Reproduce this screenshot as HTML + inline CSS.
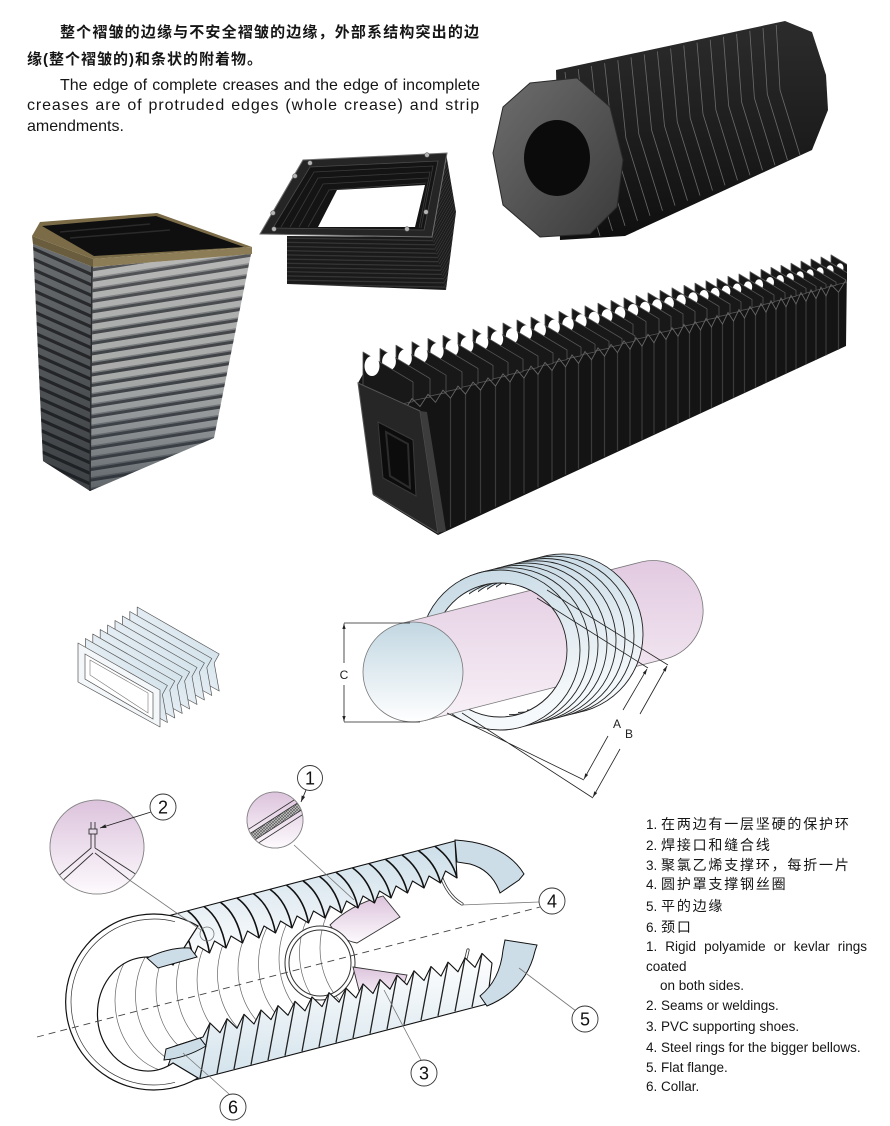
<!DOCTYPE html>
<html><head><meta charset="utf-8">
<style>
html,body{margin:0;padding:0;background:#fff;}
body{width:890px;height:1126px;position:relative;overflow:hidden;font-family:"Liberation Sans","Noto Sans CJK SC",sans-serif;color:#151515;}
.a{position:absolute;white-space:pre;}
.j{text-align:justify;text-align-last:justify;white-space:normal;}
.cn{font-size:15px;line-height:20px;font-weight:bold;letter-spacing:1px;}
.en{font-size:16px;line-height:20px;}
.li{font-size:13.5px;line-height:20px;left:646px;}
.lc{font-size:14px;letter-spacing:1.8px;}
</style></head><body>
<svg width="890" height="1126" viewBox="0 0 890 1126" style="position:absolute;left:0;top:0" font-family="Liberation Sans, sans-serif">
<defs>
<pattern id="strR" patternUnits="userSpaceOnUse" width="40" height="10.5" patternTransform="translate(0,265) skewY(-9)">
 <rect width="40" height="10.5" fill="#aeafad"/>
 <rect y="6" width="40" height="1.5" fill="#7a7c7d"/>
 <rect y="7.5" width="40" height="3" fill="#3e4043"/>
</pattern>
<pattern id="strL" patternUnits="userSpaceOnUse" width="40" height="10.5" patternTransform="translate(0,246) skewY(24)">
 <rect width="40" height="10.5" fill="#6a6e71"/>
 <rect y="7" width="40" height="3.5" fill="#2c2e31"/>
</pattern>
<pattern id="strB" patternUnits="userSpaceOnUse" width="40" height="4.2" patternTransform="translate(0,238) skewY(1)">
 <rect width="40" height="4.2" fill="#1a1a1a"/>
 <rect y="3" width="40" height="1" fill="#3c3c3c"/>
</pattern>
<pattern id="strS" patternUnits="userSpaceOnUse" width="40" height="4.5" patternTransform="translate(0,238) skewY(-60)">
 <rect width="40" height="4.5" fill="#1c1c1c"/>
 <rect y="3" width="40" height="1.1" fill="#3e3e3e"/>
</pattern>
<pattern id="hat" patternUnits="userSpaceOnUse" width="3" height="3">
 <rect width="3" height="3" fill="#c4c4c4"/>
 <path d="M0,0 L3,3 M3,0 L0,3" stroke="#555" stroke-width="0.6"/>
</pattern>
<linearGradient id="shadeR" x1="0" y1="0" x2="0" y2="1">
 <stop offset="0" stop-color="#ffffff" stop-opacity="0.12"/>
 <stop offset="0.5" stop-color="#506070" stop-opacity="0.05"/>
 <stop offset="1" stop-color="#1e2630" stop-opacity="0.55"/>
</linearGradient>
<linearGradient id="shadeL" x1="0" y1="0" x2="0" y2="1">
 <stop offset="0" stop-color="#000" stop-opacity="0"/>
 <stop offset="1" stop-color="#101418" stop-opacity="0.5"/>
</linearGradient>
<linearGradient id="endG" x1="0" y1="0" x2="1" y2="1">
 <stop offset="0" stop-color="#6e6e6e"/>
 <stop offset="1" stop-color="#3a3a3a"/>
</linearGradient>
<linearGradient id="cylG" x1="0" y1="0" x2="0" y2="1">
 <stop offset="0" stop-color="#2c2c2c"/>
 <stop offset="1" stop-color="#0f0f0f"/>
</linearGradient>
<linearGradient id="rg" x1="0" y1="0" x2="0.3" y2="1">
 <stop offset="0" stop-color="#c3d7e3"/>
 <stop offset="1" stop-color="#f6f9fb"/>
</linearGradient>
<linearGradient id="cp" x1="0" y1="0" x2="0" y2="1">
 <stop offset="0" stop-color="#e2cae1"/>
 <stop offset="1" stop-color="#f8f1f7"/>
</linearGradient>
<linearGradient id="fc" x1="0" y1="0" x2="0" y2="1">
 <stop offset="0" stop-color="#c2d7e2"/>
 <stop offset="1" stop-color="#ffffff"/>
</linearGradient>
<linearGradient id="pm" x1="0" y1="0" x2="0" y2="1">
 <stop offset="0" stop-color="#dcc3dc"/>
 <stop offset="1" stop-color="#fdfafd"/>
</linearGradient>
<linearGradient id="lb" x1="0" y1="0" x2="0" y2="1">
 <stop offset="0" stop-color="#cbdde8"/>
 <stop offset="1" stop-color="#ffffff"/>
</linearGradient>
<linearGradient id="lb2" x1="0" y1="0" x2="0" y2="1">
 <stop offset="0" stop-color="#ffffff"/>
 <stop offset="1" stop-color="#cfe0ea"/>
</linearGradient>
<linearGradient id="sb" x1="1" y1="0" x2="0" y2="1">
 <stop offset="0" stop-color="#c4d8e4"/>
 <stop offset="1" stop-color="#ffffff"/>
</linearGradient>
<clipPath id="rh"><rect x="0" y="-90" width="100" height="180"/></clipPath>
<clipPath id="rh2"><path d="M-40,-90 H100 V90 H0 V-40 H-40 Z"/></clipPath>
<clipPath id="m2"><circle cx="97" cy="847" r="47"/></clipPath>
<clipPath id="m1"><circle cx="275" cy="820" r="28"/></clipPath>
<clipPath id="finclip"><rect x="300" y="200" width="547" height="350"/></clipPath>
<path id="ring" d="M-80,0 a80,80 0 1,0 160,0 a80,80 0 1,0 -160,0 Z M-67,0 a67,67 0 1,0 134,0 a67,67 0 1,0 -134,0 Z" fill-rule="evenodd" fill="url(#rg)" stroke="#222" stroke-width="0.9"/>
<marker id="ar" viewBox="0 0 10 10" refX="10" refY="5" markerWidth="7" markerHeight="7" orient="auto"><path d="M0,2 L10,5 L0,8 Z" fill="#222"/></marker>
</defs>

<!-- ===== Photo 1: tall gray bellows ===== -->
<path d="M33,244 L93,267 L90,491 L43,461 Z" fill="url(#strL)"/>
<path d="M33,244 L93,267 L90,491 L43,461 Z" fill="url(#shadeL)"/>
<path d="M93,267 L251,254 L214,438 L90,491 Z" fill="url(#strR)"/>
<path d="M93,267 L251,254 L214,438 L90,491 Z" fill="url(#shadeR)"/>
<path d="M92,266 L90,491" stroke="#2a2c2e" stroke-width="1.5"/>
<path d="M32,236 L93,259 L93,267 L33,244 Z" fill="#6a5d3e"/>
<path d="M93,259 L252,247 L252,254 L93,267 Z" fill="#8c7d56"/>
<path d="M32,236 L40,222 L157,213 L252,247 L93,259 Z" fill="#7b6c47"/>
<path d="M42,226 L156,216 L244,247 L94,256 Z" fill="#0f0f0f"/>
<path d="M60,232 L150,224 M70,238 L170,230" stroke="#2a2a2a" stroke-width="1.5"/>

<!-- ===== Photo 2: black frame bellows ===== -->
<path d="M430,238 L446,153 L456,212 L446,290 Z" fill="url(#strS)"/>
<path d="M287,236 L432,237 L446,290 L287,284 Z" fill="url(#strB)"/>
<path d="M260,234 L303,160 L447,153 L432,237 Z" fill="#252525" stroke="#707070" stroke-width="1"/>
<path d="M273,228 L310,167 L438,161 L424,230 Z" fill="#141414" stroke="#4a4a4a" stroke-width="0.8"/>
<g fill="none" stroke="#3a3a3a" stroke-width="0.8">
<path d="M281,227 L314,172 L433,166 L421,228"/>
<path d="M290,227 L318,178 L430,172 L419,228"/>
<path d="M299,227 L323,184 L428,178"/>
<path d="M308,227 L329,190 L426,183"/>
</g>
<path d="M318,227 L337,190 L425,185 L415,227 Z" fill="#fff"/>
<g fill="#b5b5b5" stroke="#555" stroke-width="0.6">
<circle cx="274" cy="229" r="2.3"/><circle cx="273" cy="213" r="2.3"/><circle cx="295" cy="176" r="2.3"/>
<circle cx="310" cy="163" r="2.3"/><circle cx="427" cy="155" r="2.3"/><circle cx="426" cy="212" r="2.3"/><circle cx="407" cy="229" r="2.3"/>
</g>

<!-- ===== Photo 3: octagonal round bellows ===== -->
<path d="M556,70 L785,21 L812,32 L826,75 L828,110 L812,150 L625,236 L560,240 Z" fill="url(#cylG)"/>
<g fill="none" stroke="#7e7e7e" stroke-width="0.8" stroke-opacity="0.8">
<polyline points="565,72 574.5,154 600,236"/>
<polyline points="578.2,69.1 587.4,150 612.5,230.9"/>
<polyline points="591.4,66.1 600.2,146 625,225.9"/>
<polyline points="604.6,63.2 613,142 637.5,220.8"/>
<polyline points="617.8,60.2 625.9,138 650,215.8"/>
<polyline points="631,57.3 638.8,134 662.5,210.7"/>
<polyline points="644.2,54.4 651.6,130 675,205.6"/>
<polyline points="657.4,51.4 664.5,126 687.5,200.6"/>
<polyline points="670.6,48.5 677.3,122 700,195.5"/>
<polyline points="683.8,45.5 690.2,118 712.5,190.5"/>
<polyline points="697,42.6 703,114 725,185.4"/>
<polyline points="710.2,39.7 715.9,110 737.5,180.3"/>
<polyline points="723.4,36.7 728.7,106 750,175.3"/>
<polyline points="736.6,33.8 741.6,102 762.5,170.2"/>
<polyline points="749.8,30.8 754.4,98 775,165.2"/>
<polyline points="763,27.9 767.3,94 787.5,160.1"/>
<polyline points="776.2,25 780,90 800,155"/>
</g>
<path d="M503,107 L530,83 L577,78 L610,107 L623,160 L617,207 L590,234 L540,237 L503,205 L493,153 Z" fill="url(#endG)" stroke="#2a2a2a" stroke-width="1"/>
<ellipse cx="557" cy="158" rx="33" ry="38" fill="#0b0b0b"/>

<!-- ===== Photo 4: long bellows with fins ===== -->
<path d="M358,383 L363,374 L840,272 L847,264 L846,346 L438,535 L373,495 Z" fill="#141414"/>
<g clip-path="url(#finclip)">
<g fill="#181818" stroke="#555" stroke-width="0.8" stroke-linejoin="round">
<path d="M831,284.5 V254.9 L866,275.9 V277.2 Z"/><ellipse cx="840" cy="267.9" rx="3.5" ry="4.6" fill="#fff" stroke="none"/>
<path d="M821,287.2 V257 L856,278 V279.9 Z"/><ellipse cx="830" cy="270" rx="3.6" ry="4.7" fill="#fff" stroke="none"/>
<path d="M811,289.9 V259 L846,280 V282.6 Z"/><ellipse cx="820" cy="272" rx="3.6" ry="4.8" fill="#fff" stroke="none"/>
<path d="M801,292.6 V261.1 L836,282.1 V285.3 Z"/><ellipse cx="810" cy="274.1" rx="3.6" ry="4.9" fill="#fff" stroke="none"/>
<path d="M791,295.4 V263.2 L826,284.2 V288.1 Z"/><ellipse cx="800" cy="276.2" rx="3.7" ry="5" fill="#fff" stroke="none"/>
<path d="M781,298.1 V265.3 L816,286.3 V290.8 Z"/><ellipse cx="790" cy="278.3" rx="3.8" ry="5.2" fill="#fff" stroke="none"/>
<path d="M771,300.8 V267.3 L806,288.3 V293.5 Z"/><ellipse cx="780" cy="280.3" rx="3.9" ry="5.3" fill="#fff" stroke="none"/>
<path d="M761,303.5 V269.4 L796,290.4 V296.2 Z"/><ellipse cx="770" cy="282.4" rx="4" ry="5.4" fill="#fff" stroke="none"/>
<path d="M750,306.5 V271.7 L785,292.7 V299.2 Z"/><ellipse cx="759" cy="284.7" rx="4.1" ry="5.5" fill="#fff" stroke="none"/>
<path d="M739,309.6 V274 L774,295 V302.3 Z"/><ellipse cx="748" cy="287" rx="4.2" ry="5.6" fill="#fff" stroke="none"/>
<path d="M728,312.6 V276.3 L763,297.3 V305.3 Z"/><ellipse cx="737" cy="289.3" rx="4.3" ry="5.8" fill="#fff" stroke="none"/>
<path d="M717,315.5 V278.5 L752,299.5 V308.2 Z"/><ellipse cx="726" cy="291.5" rx="4.4" ry="5.9" fill="#fff" stroke="none"/>
<path d="M706,318.5 V280.8 L741,301.8 V311.2 Z"/><ellipse cx="715" cy="293.8" rx="4.5" ry="6" fill="#fff" stroke="none"/>
<path d="M695,321.5 V283.1 L730,304.1 V314.2 Z"/><ellipse cx="704" cy="296.1" rx="4.6" ry="6.1" fill="#fff" stroke="none"/>
<path d="M684,324.5 V285.4 L719,306.4 V317.2 Z"/><ellipse cx="693" cy="298.4" rx="4.7" ry="6.2" fill="#fff" stroke="none"/>
<path d="M672,327.8 V287.9 L707,308.9 V320.5 Z"/><ellipse cx="681" cy="300.9" rx="4.8" ry="6.4" fill="#fff" stroke="none"/>
<path d="M660,331.1 V290.4 L695,311.4 V323.8 Z"/><ellipse cx="669" cy="303.4" rx="4.9" ry="6.5" fill="#fff" stroke="none"/>
<path d="M648,334.4 V292.9 L683,313.9 V327.1 Z"/><ellipse cx="657" cy="305.9" rx="5" ry="6.6" fill="#fff" stroke="none"/>
<path d="M636,337.7 V295.4 L671,316.4 V330.4 Z"/><ellipse cx="645" cy="308.4" rx="5.1" ry="6.7" fill="#fff" stroke="none"/>
<path d="M624,340.8 V297.8 L659,318.8 V333.5 Z"/><ellipse cx="633" cy="310.8" rx="5.2" ry="6.8" fill="#fff" stroke="none"/>
<path d="M611,344.4 V300.5 L646,321.5 V337.1 Z"/><ellipse cx="620" cy="313.5" rx="5.3" ry="7" fill="#fff" stroke="none"/>
<path d="M598,347.9 V303.2 L633,324.2 V340.6 Z"/><ellipse cx="607" cy="316.2" rx="5.4" ry="7.1" fill="#fff" stroke="none"/>
<path d="M585,351.5 V305.9 L635,335.9 V341.1 Z"/><ellipse cx="594" cy="318.9" rx="5.5" ry="7.2" fill="#fff" stroke="none"/>
<path d="M572,355 V308.6 L622,338.6 V344.6 Z"/><ellipse cx="581" cy="321.6" rx="5.6" ry="7.3" fill="#fff" stroke="none"/>
<path d="M559,358.6 V311.3 L609,341.3 V348.2 Z"/><ellipse cx="568" cy="324.3" rx="5.7" ry="7.4" fill="#fff" stroke="none"/>
<path d="M545,362.4 V314.2 L595,344.2 V352 Z"/><ellipse cx="554" cy="327.2" rx="5.8" ry="7.6" fill="#fff" stroke="none"/>
<path d="M531,366.2 V317.1 L581,347.1 V355.8 Z"/><ellipse cx="540" cy="330.1" rx="5.9" ry="7.7" fill="#fff" stroke="none"/>
<path d="M517,370 V320 L567,350 V359.6 Z"/><ellipse cx="526" cy="333" rx="6" ry="7.8" fill="#fff" stroke="none"/>
<path d="M503,373.9 V323 L553,353 V363.5 Z"/><ellipse cx="512" cy="336" rx="6.1" ry="7.9" fill="#fff" stroke="none"/>
<path d="M488,378 V326.1 L538,356.1 V367.6 Z"/><ellipse cx="497" cy="339.1" rx="6.2" ry="8" fill="#fff" stroke="none"/>
<path d="M473,382.1 V329.2 L523,359.2 V371.7 Z"/><ellipse cx="482" cy="342.2" rx="6.3" ry="8.2" fill="#fff" stroke="none"/>
<path d="M458,386.1 V332.3 L508,362.3 V375.7 Z"/><ellipse cx="467" cy="345.3" rx="6.4" ry="8.3" fill="#fff" stroke="none"/>
<path d="M443,390.2 V335.4 L493,365.4 V379.8 Z"/><ellipse cx="452" cy="348.4" rx="6.5" ry="8.4" fill="#fff" stroke="none"/>
<path d="M428,394.3 V338.5 L478,368.5 V383.9 Z"/><ellipse cx="437" cy="351.5" rx="6.6" ry="8.5" fill="#fff" stroke="none"/>
<path d="M412,398.6 V341.8 L462,371.8 V388.2 Z"/><ellipse cx="421" cy="354.8" rx="6.7" ry="8.6" fill="#fff" stroke="none"/>
<path d="M396,403.1 V345.2 L446,375.2 V392.7 Z"/><ellipse cx="405" cy="358.2" rx="6.8" ry="8.8" fill="#fff" stroke="none"/>
<path d="M380,407.4 V348.5 L430,378.5 V397 Z"/><ellipse cx="389" cy="361.5" rx="6.9" ry="8.9" fill="#fff" stroke="none"/>
<path d="M363,412 V352 L413,382 V401.6 Z"/><ellipse cx="372" cy="366" rx="7.5" ry="10" fill="#fff" stroke="none"/>
</g>
<g fill="none" stroke="#3b3b3b" stroke-width="1.2">
<path d="M450.5,398.2V527.3 M465.5,394.1V520.4 M480.5,390.1V513.5 M495.5,386V506.7 M510,382V500 M524,378.1V493.6 M538,374.3V487.2 M552,370.5V480.8 M565.5,366.8V474.6 M578.5,363.3V468.7 M591.5,359.7V462.7 M604.5,356.2V456.7 M617.5,352.6V450.8 M630,349.3V445.1 M642,346.1V439.6 M654,342.8V434.1 M666,339.5V428.6 M678,336.2V423.1 M689.5,333V417.8 M700.5,330V412.8 M711.5,327V407.7 M722.5,324.1V402.7 M733.5,321.1V397.7 M744.5,318.1V392.6 M755.5,315V387.6 M766,312.2V382.8 M776,309.5V378.2 M786,306.8V373.6 M796,304V369 M806,301.3V364.5 M816,298.6V359.9 M826,295.9V355.3 M838.5,292.2V349.6"/>
</g>
<polyline fill="none" stroke="#666" stroke-width="0.9" points="363,412 371.5,419.7 380,407.4 388,415.3 396,403.1 404,410.9 412,398.6 420,406.5 428,394.3 435.5,402.3 443,390.2 450.5,398.2 458,386.1 465.5,394.1 473,382.1 480.5,390.1 488,378 495.5,386 503,373.9 510,382 517,370 524,378.1 531,366.2 538,374.3 545,362.4 552,370.5 559,358.6 565.5,366.8 572,355 578.5,363.3 585,351.5 591.5,359.7 598,347.9 604.5,356.2 611,344.4 617.5,352.6 624,340.8 630,349.3 636,337.7 642,346.1 648,334.4 654,342.8 660,331.1 666,339.5 672,327.8 678,336.2 684,324.5 689.5,333 695,321.5 700.5,330 706,318.5 711.5,327 717,315.5 722.5,324.1 728,312.6 733.5,321.1 739,309.6 744.5,318.1 750,306.5 755.5,315 761,303.5 766,312.2 771,300.8 776,309.5 781,298.1 786,306.8 791,295.4 796,304 801,292.6 806,301.3 811,289.9 816,298.6 821,287.2 826,295.9 831,284.5 838.5,292.2 846,280"/>
</g>
<path d="M358,383 L420,411 L438,533 L373,494 Z" fill="#262626" stroke="#555" stroke-width="1"/>
<path d="M420,411 L427,412 L446,531 L438,533 Z" fill="#3c3c3c"/>
<path d="M378,422 L413,440 L416,496 L383,478 Z" fill="#0c0c0c" stroke="#3a3a3a" stroke-width="1"/>
<path d="M386,432 L408,444 L410,488 L390,476 Z" fill="none" stroke="#2c2c2c" stroke-width="2"/>

<!-- ===== Small rectangular line-art bellows ===== -->
<g fill="url(#sb)" stroke="#555" stroke-width="0.7" stroke-linejoin="round">
<path d="M137.2,607 L219.2,654 L214.2,663 L219.2,691 L137.2,646 Z"/>
<path d="M129.8,611.5 L211.8,658.5 L206.8,667.5 L211.8,695.5 L129.8,650.5 Z"/>
<path d="M122.4,616 L204.4,663 L199.4,672 L204.4,700 L122.4,655 Z"/>
<path d="M115,620.5 L197,667.5 L192,676.5 L197,704.5 L115,659.5 Z"/>
<path d="M107.6,625 L189.6,672 L184.6,681 L189.6,709 L107.6,664 Z"/>
<path d="M100.2,629.5 L182.2,676.5 L177.2,685.5 L182.2,713.5 L100.2,668.5 Z"/>
<path d="M92.8,634 L174.8,681 L169.8,690 L174.8,718 L92.8,673 Z"/>
<path d="M85.4,638.5 L167.4,685.5 L162.4,694.5 L167.4,722.5 L85.4,677.5 Z"/>
<path d="M78,643 L160,690 L160,727 L78,682 Z" fill="#f4f7f9"/>
</g>
<path d="M85,654 L153,693 L153,719 L85,679 Z" fill="#fff" stroke="#555" stroke-width="0.7"/>
<path d="M90,660 L148,693 L148,713 L90,675 Z" fill="none" stroke="#777" stroke-width="0.6"/>

<!-- ===== Ring / cylinder dimension diagram ===== -->
<use href="#ring" x="500" y="650"/>
<path d="M400.6,623.6 L642.6,561.6 A50,50 0 0 1 667.4,658.4 L425.4,720.4 Z" fill="url(#cp)" stroke="#777" stroke-width="0.8"/>
<circle cx="413" cy="672" r="50" fill="url(#fc)" stroke="#777" stroke-width="0.8"/>
<g transform="translate(563,633.9)"><g clip-path="url(#rh2)"><use href="#ring"/></g></g>
<g transform="translate(554,636.2)"><g clip-path="url(#rh2)"><use href="#ring"/></g></g>
<g transform="translate(545,638.5)"><g clip-path="url(#rh2)"><use href="#ring"/></g></g>
<g transform="translate(536,640.8)"><g clip-path="url(#rh2)"><use href="#ring"/></g></g>
<g transform="translate(527,643.1)"><g clip-path="url(#rh2)"><use href="#ring"/></g></g>
<g transform="translate(518,645.4)"><g clip-path="url(#rh2)"><use href="#ring"/></g></g>
<g transform="translate(509,647.7)"><g clip-path="url(#rh2)"><use href="#ring"/></g></g>
<g transform="translate(500,650)"><g clip-path="url(#rh2)"><use href="#ring"/></g></g>
<g fill="none" stroke="#222" stroke-width="0.8">
<path d="M344,623 H410 M344,722 H420"/>
<path d="M344,663 V623.5" marker-end="url(#ar)"/>
<path d="M344,685 V721.5" marker-end="url(#ar)"/>
<path d="M447,713 L584,780 M462,713 L593,798"/>
<path d="M537,598 L648,668 M547,590 L668,665"/>
<path d="M608,736 L584,779" marker-end="url(#ar)"/>
<path d="M623,710 L647,669" marker-end="url(#ar)"/>
<path d="M620,749 L593,797" marker-end="url(#ar)"/>
<path d="M640,714 L667,666" marker-end="url(#ar)"/>
</g>
<text x="344" y="679" font-size="12" text-anchor="middle" fill="#222">C</text>
<text x="617" y="728" font-size="12" text-anchor="middle" fill="#222">A</text>
<text x="629" y="738" font-size="12" text-anchor="middle" fill="#222">B</text>

<!-- ===== Bottom cut-away bellows diagram ===== -->
<circle cx="97" cy="847" r="47" fill="url(#pm)" stroke="#888" stroke-width="0.8"/>
<g clip-path="url(#m2)" fill="none" stroke="#333" stroke-width="0.9">
<path d="M56,878 L91,848 L91,822 M60,883 L93,853 M95,853 L132,882 M95,848 L137,875 M95,848 L95,822"/>
<rect x="89" y="829" width="8" height="5" fill="#e6d8e6"/>
</g>
<circle cx="97" cy="847" r="47" fill="none" stroke="#888" stroke-width="0.8"/>
<circle cx="275" cy="820" r="28" fill="url(#pm)" stroke="#888" stroke-width="0.8"/>
<g clip-path="url(#m1)">
<path d="M240,840 L310,795 L314,802 L244,847 Z" fill="url(#hat)"/>
<path d="M238,836 L308,791 M240,840 L310,795 M244,847 L314,802 M246,851 L316,806" stroke="#333" stroke-width="0.8" fill="none"/>
</g>
<circle cx="275" cy="820" r="28" fill="none" stroke="#888" stroke-width="0.8"/>

<g fill="none" stroke="#666" stroke-width="0.7">
<path d="M177,928.9 A62,72 0 0 0 177,1072.9"/>
<path d="M197.5,923.6 A62,72 0 0 0 197.5,1067.6"/>
<path d="M218,918.3 A62,72 0 0 0 218,1062.3"/>
<path d="M238.5,913 A62,72 0 0 0 238.5,1057"/>
<path d="M259,907.7 A62,72 0 0 0 259,1051.7"/>
<path d="M279.5,902.4 A62,72 0 0 0 279.5,1046.4"/>
<path d="M300,897.1 A62,72 0 0 0 300,1041.1"/>
<path d="M320.5,891.9 A62,72 0 0 0 320.5,1035.9"/>
<path d="M341,886.6 A62,72 0 0 0 341,1030.6"/>
<path d="M361.5,881.3 A62,72 0 0 0 361.5,1025.3"/>
<path d="M382,876 A62,72 0 0 0 382,1020"/>
</g>
<path d="M330,925 Q350,905 383,896 L400,917 L357,943 Q340,940 330,925 Z" fill="url(#pm)" stroke="#333" stroke-width="0.9"/>
<ellipse cx="320" cy="963" rx="33" ry="35" fill="none" stroke="#333" stroke-width="5"/>
<ellipse cx="320" cy="963" rx="33" ry="35" fill="none" stroke="#fff" stroke-width="3"/>
<path d="M353,967 L407,975 L398,1002 L362,1002 Z" fill="url(#pm)" stroke="#333" stroke-width="0.9"/>
<g fill="none" stroke-linecap="round">
<path d="M441,876 Q448,896 462,904" stroke="#333" stroke-width="3.2"/>
<path d="M441,876 Q448,896 462,904" stroke="#fff" stroke-width="1.6"/>
<path d="M468,950 Q463,975 446,994" stroke="#333" stroke-width="3.2"/>
<path d="M468,950 Q463,975 446,994" stroke="#fff" stroke-width="1.6"/>
</g>
<path d="M160,918 L455,841 L457,878 L445.5,871 L440.5,883 L429,876 L424,888 L412.5,881 L407.5,893 L396,886 L391,898 L379.5,891 L374.5,903 L363,896 L358,908 L346.5,901 L341.5,913 L330,906 L325,918 L313.5,911 L308.5,923 L297,916 L292,928 L280.5,921 L275.5,933 L264,926 L259,938 L247.5,931 L242.5,943 L231,936 L226,948 L214.5,941 L209.5,953 L198,946 L193,958 L172,964 Z" fill="url(#lb)" stroke="#111" stroke-width="1.1" stroke-linejoin="round"/>
<g fill="none" stroke="#111" stroke-width="1.6">
<path d="M171,915.1 Q188,927 193,958"/>
<path d="M187.5,910.8 Q204.5,923 209.5,953"/>
<path d="M204,906.5 Q221,918.5 226,948"/>
<path d="M220.5,902.3 Q237.5,914.3 242.5,943"/>
<path d="M237,898 Q254,910 259,938"/>
<path d="M253.5,893.7 Q270.5,905.7 275.5,933"/>
<path d="M270,889.4 Q287,901.4 292,928"/>
<path d="M286.5,885.1 Q303.5,897.1 308.5,923"/>
<path d="M303,880.8 Q320,892.8 325,918"/>
<path d="M319.5,876.5 Q336.5,888.5 341.5,913"/>
<path d="M336,872.2 Q353,884.2 358,908"/>
<path d="M352.5,867.9 Q369.5,879.9 374.5,903"/>
<path d="M369,863.6 Q386,875.6 391,898"/>
<path d="M385.5,859.3 Q402.5,871.3 407.5,893"/>
<path d="M402,855 Q419,867 424,888"/>
<path d="M418.5,850.7 Q435.5,862.7 440.5,883"/>
<path d="M435,846.4 Q452,858.4 457,878"/>
</g>
<path d="M455,840 Q505,843 524,874 L519,880 L500,893 Q492,870 470,864 L457,862 Z" fill="#cddde7" stroke="#111" stroke-width="1"/>
<path d="M160,1089 L487,1004 L492,963.1 L482,953.4 L475,967.4 L465,957.8 L458,971.8 L448,962.1 L441,976.1 L431,966.5 L424,980.5 L414,970.8 L407,984.8 L397,975.2 L390,989.2 L380,979.5 L373,993.5 L363,983.9 L356,997.9 L346,988.2 L339,1002.2 L329,992.6 L322,1006.6 L312,996.9 L305,1010.9 L295,1001.3 L288,1015.3 L278,1005.6 L271,1019.6 L261,1010 L254,1024 L244,1014.3 L237,1028.3 L227,1018.7 L220,1032.7 L210,1023 L203,1037 L175,1046 Z" fill="url(#lb2)" stroke="#111" stroke-width="1.1" stroke-linejoin="round"/>
<g fill="none" stroke="#222" stroke-width="1.3">
<path d="M210,1023 L200,1078 M227,1018.7 L217,1073.6 M244,1014.3 L234,1069.1 M261,1010 L251,1064.7 M278,1005.6 L268,1060.2 M295,1001.3 L285,1055.8 M312,996.9 L302,1051.4 M329,992.6 L319,1046.9 M346,988.2 L336,1042.5 M363,983.9 L353,1038.1 M380,979.5 L370,1033.6 M397,975.2 L387,1029.2 M414,970.8 L404,1024.8 M431,966.5 L421,1020.3 M448,962.1 L438,1015.9 M465,957.8 L455,1011.4 M482,953.4 L472,1007"/>
</g>
<path d="M505,940 L537,945 L535,951 Q526,990 487,1006 L480,996 Q500,980 503,950 Z" fill="#cddde7" stroke="#111" stroke-width="1"/>
<path d="M198,926 A88,88 0 1 0 198,1078 L173,1063 A50,57 0 1 1 173,965 Z" fill="#fff" stroke="#111" stroke-width="1.2"/>
<path d="M175,921.7 A83,83 0 1 0 175,1082.3" fill="none" stroke="#333" stroke-width="0.7"/>
<path d="M147,958 Q170,947 190,948 L197,957 L158,968 Z" fill="#cddde7" stroke="#111" stroke-width="1"/>
<path d="M166,1049 L200,1038 L206,1046 Q186,1058 164,1060 Z" fill="#cddde7" stroke="#111" stroke-width="1"/>
<path d="M37,1037 L540,907" stroke="#444" stroke-width="0.9" stroke-dasharray="7 5" fill="none"/>

<g fill="none" stroke="#777" stroke-width="0.8">
<path d="M128,879 L201,930"/>
<circle cx="207" cy="934" r="7"/>
<path d="M294,845 L354,900"/>
<path d="M539,902 L461,905"/>
<path d="M576,1011 L519,968"/>
<path d="M421,1060 L384,990"/>
<path d="M229,1094 L183,1053"/>
</g>
<path d="M151,812 L100,828" stroke="#222" stroke-width="0.9" marker-end="url(#ar)"/>
<path d="M306,790 L301,802" stroke="#222" stroke-width="0.9" marker-end="url(#ar)"/>
<g fill="#fff" stroke="#333" stroke-width="0.9">
<circle cx="163" cy="807" r="13"/>
<circle cx="310" cy="778" r="12.5"/>
<circle cx="552" cy="901" r="13"/>
<circle cx="585" cy="1019" r="13"/>
<circle cx="424" cy="1073" r="13"/>
<circle cx="233" cy="1107" r="13"/>
</g>
<g font-size="18" text-anchor="middle" fill="#111">
<text x="163" y="813.5">2</text>
<text x="310" y="784.5">1</text>
<text x="552" y="907.5">4</text>
<text x="585" y="1025.5">5</text>
<text x="424" y="1079.5">3</text>
<text x="233" y="1113.5">6</text>
</g>
</svg>

<div class="a j cn" style="left:60px;top:23px;width:420px">整个褶皱的边缘与不安全褶皱的边缘，外部系结构突出的边</div>
<div class="a cn" style="left:27px;top:50px">缘(整个褶皱的)和条状的附着物。</div>
<div class="a j en" style="left:60px;top:76px;width:420px">The edge of complete creases and the edge of incomplete</div>
<div class="a j en" style="left:27px;top:96px;width:453px;letter-spacing:0.9px">creases are of protruded edges (whole crease) and strip</div>
<div class="a en" style="left:27px;top:117px">amendments.</div>

<div class="a li" style="top:814px">1. <span class="lc">在两边有一层坚硬的保护环</span></div>
<div class="a li" style="top:834.5px">2. <span class="lc">焊接口和缝合线</span></div>
<div class="a li" style="top:854.5px">3. <span class="lc">聚氯乙烯支撑环，每折一片</span></div>
<div class="a li" style="top:874px">4. <span class="lc">圆护罩支撑钢丝圈</span></div>
<div class="a li" style="top:895.5px">5. <span class="lc">平的边缘</span></div>
<div class="a li" style="top:916.5px">6. <span class="lc">颈口</span></div>
<div class="a li j" style="top:937px;width:221px">1. Rigid polyamide or kevlar rings</div>
<div class="a li" style="top:956.5px">coated</div>
<div class="a li" style="top:976px;left:660px">on both sides.</div>
<div class="a li" style="top:996px">2. Seams or weldings.</div>
<div class="a li" style="top:1017px">3. PVC supporting shoes.</div>
<div class="a li" style="top:1038px">4. Steel rings for the bigger bellows.</div>
<div class="a li" style="top:1058px">5. Flat flange.</div>
<div class="a li" style="top:1077px">6. Collar.</div>
</body></html>
